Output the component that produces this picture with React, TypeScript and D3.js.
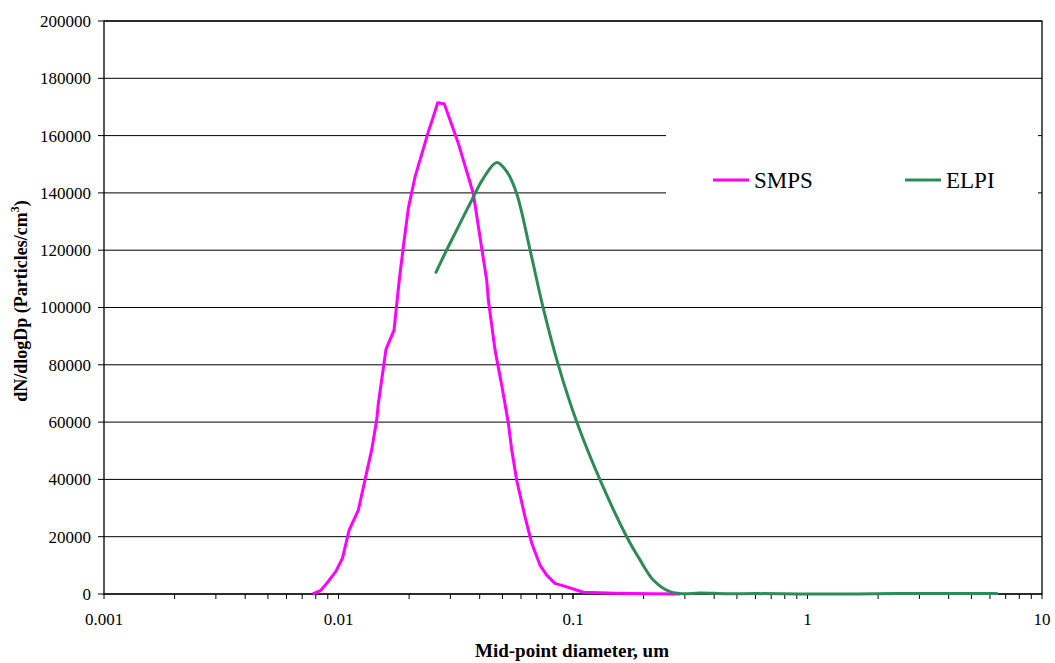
import React from 'react'
import * as d3 from 'd3'

// SMPS size distribution (diameter um, dN/dlogDp)
const smpsD = [0.00776, 0.00839, 0.00891, 0.00976, 0.0104, 0.0111, 0.01215, 0.01297, 0.01385, 0.01455, 0.01479, 0.01594, 0.01725, 0.01816, 0.0189, 0.01985, 0.0212, 0.02415, 0.02537, 0.0265, 0.02827, 0.03243, 0.03758, 0.0401, 0.04285, 0.04355, 0.0465, 0.0501, 0.053, 0.0548, 0.0575, 0.0624, 0.0667, 0.0723, 0.0772, 0.0838, 0.094, 0.1107, 0.151, 0.213, 0.286]
const smpsN = [0, 1200, 3700, 8000, 12500, 22300, 29300, 39800, 50300, 60700, 66500, 85400, 92100, 109600, 121200, 134600, 145600, 161300, 166600, 171500, 171000, 157300, 139800, 124700, 109600, 102600, 85200, 71200, 59600, 50300, 39800, 27000, 17700, 10100, 6600, 3700, 2500, 600, 250, 50, 0]

// ELPI size distribution
const elpiD = [0.02605, 0.02846, 0.0319, 0.0364, 0.04146, 0.0473, 0.0521, 0.0575, 0.0656, 0.0747, 0.0866, 0.1037, 0.1304, 0.1694, 0.1931, 0.22, 0.259, 0.295, 0.348, 0.45, 0.61, 0.95, 1.6, 2.4, 4.0, 6.41]
const elpiN = [112300, 118900, 127000, 136300, 145100, 150600, 147500, 139800, 120100, 99700, 79900, 60100, 39800, 20000, 11900, 4900, 800, 100, 350, 100, 150, 0, 0, 150, 150, 150]

const yTicks = [0, 20000, 40000, 60000, 80000, 100000, 120000, 140000, 160000, 180000, 200000]
const xTicks = [0.001, 0.01, 0.1, 1, 10]
const xTickLabels = ['0.001', '0.01', '0.1', '1', '10']

const legendItems = [
  { name: 'SMPS', color: '#FF00FF' },
  { name: 'ELPI', color: '#2E8B57' },
]

export default function App() {
  const width = 1055
  const height = 663
  const left = 104
  const right = 1042
  const top = 21
  const bottom = 594

  const x = d3.scaleLog().domain([0.001, 10]).range([left, right])
  const y = d3.scaleLinear().domain([0, 200000]).range([bottom, top])

  const minorTicks: number[] = []
  for (let e = -3; e < 1; e++) {
    for (let k = 1; k <= 10; k++) minorTicks.push(k * Math.pow(10, e))
  }

  const smpsLine = d3.line<number>()
    .x((d, i) => x(smpsD[i]))
    .y(d => y(d))
  const elpiLine = d3.line<number>()
    .x((d, i) => x(elpiD[i]))
    .y(d => y(d))
    .curve(d3.curveCatmullRom.alpha(0.5))

  const font = "'Liberation Serif', 'Times New Roman', serif"

  return (
    <svg
      width={width}
      height={height}
      style={{ position: 'absolute', left: 0, top: 0, background: '#fff', fontFamily: font }}
    >
      {/* gridlines */}
      {yTicks.map(t => (
        <line key={'g' + t} x1={left} x2={right} y1={y(t)} y2={y(t)} stroke='#000' strokeWidth={1} />
      ))}
      {/* legend background hides grid */}
      <rect x={666} y={112} width={372} height={118} fill='#fff' />

      {/* frame */}
      <rect x={left} y={top} width={right - left} height={bottom - top} fill='none' stroke='#000' strokeWidth={1.3} />

      {/* y ticks */}
      {yTicks.map(t => (
        <g key={'y' + t}>
          <line x1={left - 6} x2={left} y1={y(t)} y2={y(t)} stroke='#000' />
          <text x={91} y={y(t)} dy='0.35em' textAnchor='end' fontSize={17}>{t}</text>
        </g>
      ))}

      {/* x ticks */}
      {minorTicks.map((t, i) => (
        <line key={'m' + i} x1={x(t)} x2={x(t)} y1={bottom} y2={bottom + 5} stroke='#000' />
      ))}
      {xTicks.map((t, i) => (
        <text key={'x' + t} x={x(t)} y={625} textAnchor='middle' fontSize={17}>{xTickLabels[i]}</text>
      ))}

      {/* series */}
      <path d={smpsLine(smpsN) || ''} fill='none' stroke='#FF00FF' strokeWidth={3} strokeLinejoin='round' />
      <path d={elpiLine(elpiN) || ''} fill='none' stroke='#2E8B57' strokeWidth={3} strokeLinejoin='round' strokeLinecap='round' />

      {/* legend */}
      {legendItems.map((it, i) => (
        <g key={it.name} transform={`translate(${713 + i * 192},180)`}>
          <line x1={0} x2={36} y1={0} y2={0} stroke={it.color} strokeWidth={3} />
          <text x={41} y={0} dy='0.35em' fontSize={23}>{it.name}</text>
        </g>
      ))}

      {/* axis titles */}
      <text x={572} y={657} textAnchor='middle' fontSize={19} fontWeight='bold'>
        Mid-point diameter, um
      </text>
      <text transform='translate(27,301) rotate(-90)' textAnchor='middle' fontSize={18} fontWeight='bold'>
        dN/dlogDp (Particles/cm<tspan dy={-8} fontSize={12}>3</tspan><tspan dy={8}>)</tspan>
      </text>
    </svg>
  )
}
